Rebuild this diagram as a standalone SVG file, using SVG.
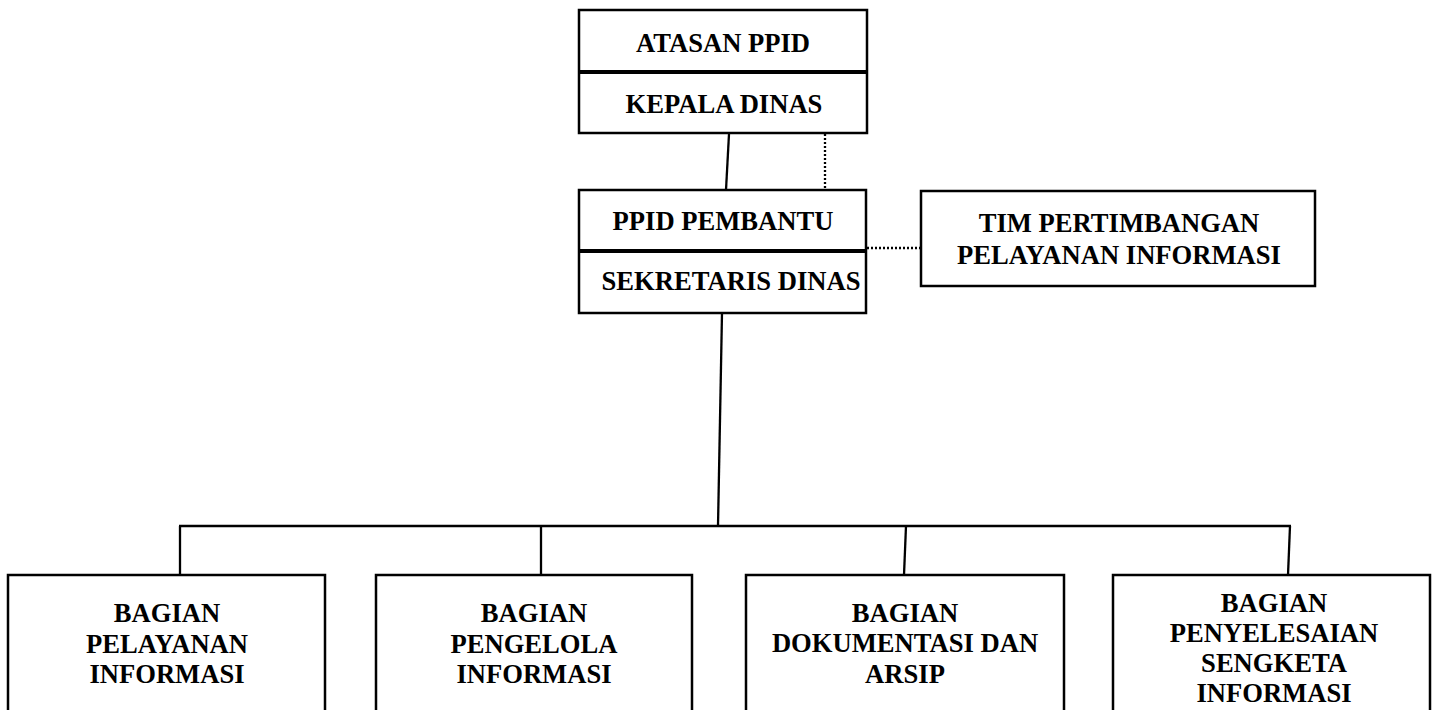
<svg xmlns="http://www.w3.org/2000/svg" width="1437" height="710" viewBox="0 0 1437 710">
<style>
.box{fill:#fff;stroke:#000;stroke-width:2.5}
.div{stroke:#000;stroke-width:3.8}
.t{font-family:"Liberation Serif","Times New Roman",serif;font-weight:bold;font-size:26.6px;text-anchor:middle;fill:#000}
.ln{stroke:#000;stroke-width:2.3;fill:none}
.dot{stroke:#000;stroke-width:2.3;fill:none;stroke-dasharray:2 2}
</style>
<rect width="1437" height="710" fill="#fff"/>
<g id="connectors">
<line class="ln" x1="729" y1="134" x2="726" y2="190"/>
<line class="dot" x1="825" y1="134" x2="825" y2="189"/>
<line class="dot" x1="867" y1="248" x2="921" y2="248"/>
<line class="ln" x1="722" y1="313" x2="718" y2="526"/>
<line class="ln" x1="179" y1="526" x2="1291" y2="526"/>
<line class="ln" x1="180" y1="526" x2="180" y2="575"/>
<line class="ln" x1="541" y1="526" x2="541" y2="575"/>
<line class="ln" x1="906" y1="526" x2="904" y2="575"/>
<line class="ln" x1="1290" y1="526" x2="1288" y2="575"/>
</g>
<g id="atasan">
<rect class="box" x="579" y="10" width="288" height="123"/>
<line class="div" x1="579" y1="72" x2="867" y2="72"/>
<text class="t" x="723" y="52">ATASAN PPID</text>
<text class="t" x="724" y="113">KEPALA DINAS</text>
</g>
<g id="ppid">
<rect class="box" x="579" y="190" width="287" height="123"/>
<line class="div" x1="579" y1="251" x2="866" y2="251"/>
<text class="t" x="723" y="230">PPID PEMBANTU</text>
<text class="t" x="731" y="290">SEKRETARIS DINAS</text>
</g>
<g id="tim">
<rect class="box" x="921" y="191" width="394" height="95"/>
<text class="t" x="1119" y="232">TIM PERTIMBANGAN</text>
<text class="t" x="1119" y="264">PELAYANAN INFORMASI</text>
</g>
<g id="bagian1">
<rect class="box" x="8" y="575" width="317" height="150"/>
<text class="t" x="167" y="622">BAGIAN</text>
<text class="t" x="167" y="653">PELAYANAN</text>
<text class="t" x="167" y="683">INFORMASI</text>
</g>
<g id="bagian2">
<rect class="box" x="376" y="575" width="316" height="150"/>
<text class="t" x="534" y="622">BAGIAN</text>
<text class="t" x="534" y="653">PENGELOLA</text>
<text class="t" x="534" y="683">INFORMASI</text>
</g>
<g id="bagian3">
<rect class="box" x="746" y="575" width="318" height="150"/>
<text class="t" x="905" y="622">BAGIAN</text>
<text class="t" x="905" y="652">DOKUMENTASI DAN</text>
<text class="t" x="905" y="683">ARSIP</text>
</g>
<g id="bagian4">
<rect class="box" x="1113" y="575" width="317" height="150"/>
<text class="t" x="1274" y="612">BAGIAN</text>
<text class="t" x="1274" y="642">PENYELESAIAN</text>
<text class="t" x="1274" y="672">SENGKETA</text>
<text class="t" x="1274" y="702">INFORMASI</text>
</g>
</svg>
